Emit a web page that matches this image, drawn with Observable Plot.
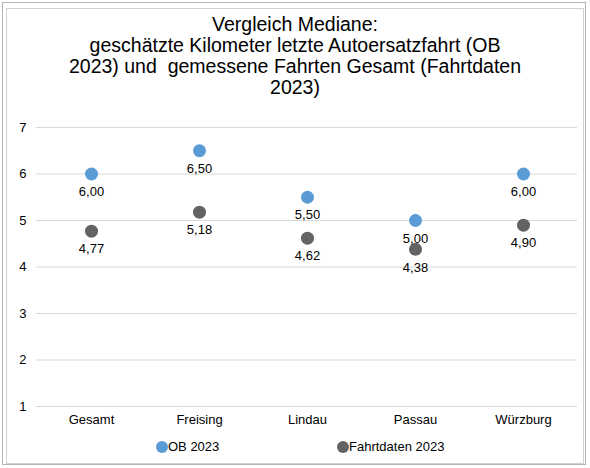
<!DOCTYPE html>
<html>
<head>
<meta charset="utf-8">
<script src="https://cdn.jsdelivr.net/npm/d3@7"></script>
<script src="https://cdn.jsdelivr.net/npm/@observablehq/plot@0.6"></script>
<style>
  html, body { margin: 0; padding: 0; background: #fff; }
  #wrap { position: relative; width: 590px; height: 468px; overflow: hidden; font-family: "Liberation Sans", Arial, sans-serif; background:#fff; }
  #outer { position: absolute; left: 2px; top: 2px; width: 584px; height: 463px; border: 1px solid #b5b5b5; box-sizing: border-box; }
  #inner { position: absolute; left: 6px; top: 8px; width: 578px; height: 456px; border: 1px solid #d0d0d0; box-sizing: border-box; }
  #title { position: absolute; left: 0; top: 14px; width: 590px; text-align: center; font-size: 19.5px; line-height: 21px; color: #000; white-space: pre; }
  #chart { position: absolute; left: 0; top: 115px; }
  .leg { position: absolute; top: 439px; font-size: 13px; color: #000; display: flex; align-items: center; }
  .leg span.dot { display: inline-block; width: 12px; height: 12px; border-radius: 50%; margin-right: 0px; }
</style>
</head>
<body>
<div id="wrap">
  <div id="outer"></div>
  <div id="inner"></div>
  <div id="title"></div>
  <div id="chart"></div>
  <div class="leg" style="left:156px"><span class="dot" style="background:#5b9bd5"></span>OB 2023</div>
  <div class="leg" style="left:337px"><span class="dot" style="background:#636363"></span>Fahrtdaten 2023</div>
</div>
<script>
const titleLines = [
  "Vergleich Mediane:",
  "geschätzte Kilometer letzte Autoersatzfahrt (OB",
  "2023) und  gemessene Fahrten Gesamt (Fahrtdaten",
  "2023)"
];
const categories = ["Gesamt", "Freising", "Lindau", "Passau", "Würzburg"];
const seriesNames = ["OB 2023", "Fahrtdaten 2023"];
const obValues = [6.00, 6.50, 5.50, 5.00, 6.00];
const fahrtValues = [4.77, 5.18, 4.62, 4.38, 4.90];
const yTicks = [1, 2, 3, 4, 5, 6, 7];
const colors = ["#5b9bd5", "#636363"];

document.getElementById("title").textContent = titleLines.join("\n");

const data = [];
categories.forEach((c, i) => {
  data.push({cat: c, series: seriesNames[0], value: obValues[i]});
  data.push({cat: c, series: seriesNames[1], value: fahrtValues[i]});
});
const fmt = v => d3.format(".2f")(v).replace(".", ",");

const chart = Plot.plot({
  width: 590,
  height: 320,
  marginLeft: 36,
  marginRight: 13,
  marginTop: 12,
  marginBottom: 29,
  style: {fontFamily: "Liberation Sans, Arial, sans-serif", fontSize: "13px", color: "#000", background: "transparent"},
  x: {type: "band", domain: categories, padding: 0, label: null, tickSize: 0, tickPadding: 8},
  y: {domain: [1, 7], ticks: yTicks, label: null, tickSize: 0, tickPadding: 10},
  color: {domain: seriesNames, range: colors},
  marks: [
    Plot.gridY(yTicks, {stroke: "#d9d9d9", strokeOpacity: 1, strokeWidth: 1}),
    Plot.axisX({tickSize: 0, tickPadding: 8, fontSize: 13}),
    Plot.axisY(yTicks, {tickSize: 0, tickPadding: 10, fontSize: 13, tickFormat: d => String(d)}),
    Plot.dot(data, {x: "cat", y: "value", fill: "series", r: 6.5, stroke: null}),
    Plot.text(data, {x: "cat", y: "value", text: d => fmt(d.value), dy: 18, fill: "#000", fontSize: 13})
  ]
});
document.getElementById("chart").appendChild(chart);
</script>
</body>
</html>
